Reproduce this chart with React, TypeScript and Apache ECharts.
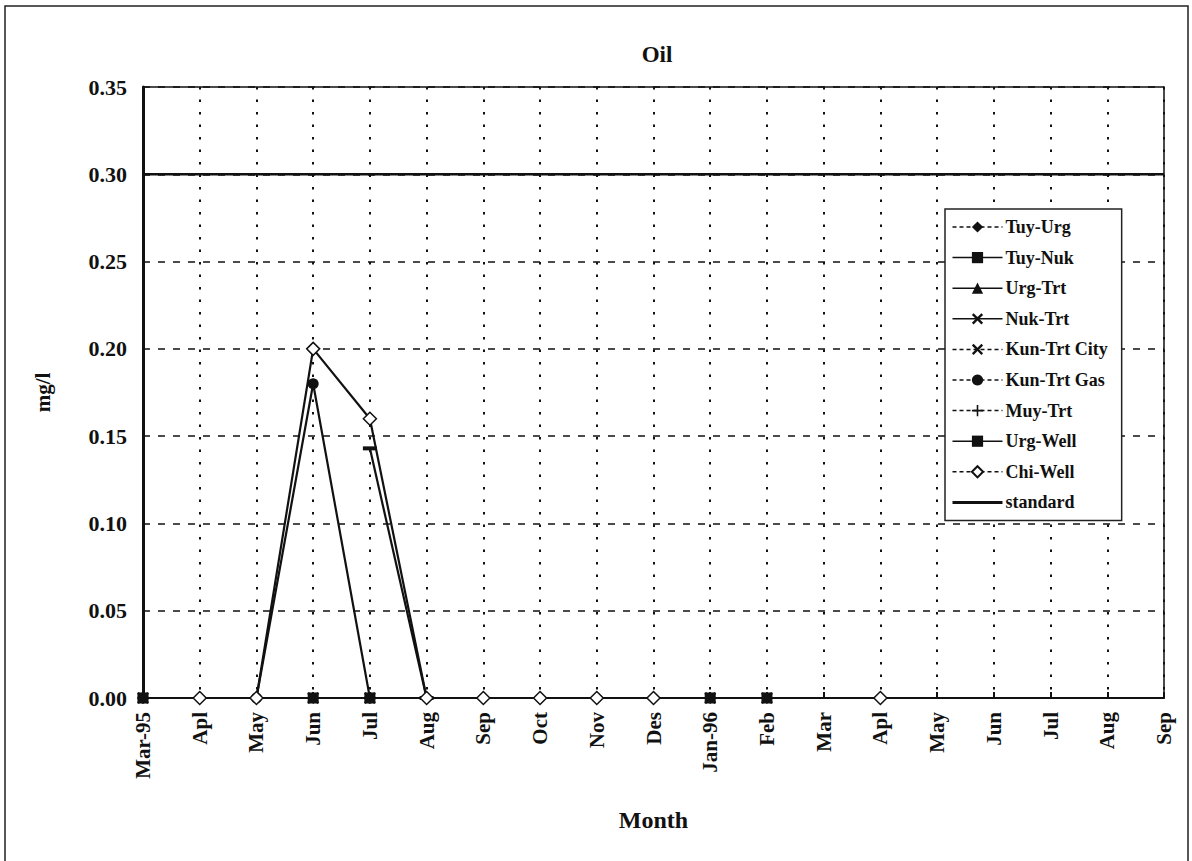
import React, { useEffect, useRef } from "react";
import * as echarts from "echarts";

const monthKeys = ["1995-03","1995-04","1995-05","1995-06","1995-07","1995-08","1995-09","1995-10","1995-11","1995-12","1996-01","1996-02","1996-03","1996-04","1996-05","1996-06","1996-07","1996-08","1996-09"];
const monthLabels = ["Mar-95","Apl","May","Jun","Jul","Aug","Sep","Oct","Nov","Des","Jan-96","Feb","Mar","Apl","May","Jun","Jul","Aug","Sep"];

const N = null;
const tuyUrg = [0, N, N, 0, 0, N, N, N, N, N, 0, 0, N, N, N, N, N, N, N];
const tuyNuk = [0, N, N, 0, 0, N, N, N, N, N, 0, 0, N, N, N, N, N, N, N];
const urgTrt = [0, N, N, 0, 0, N, N, N, N, N, 0, 0, N, N, N, N, N, N, N];
const nukTrt = [0, N, N, 0, 0, N, N, N, N, N, 0, 0, N, N, N, N, N, N, N];
const kunTrtCity = [0, N, N, 0, 0, N, N, N, N, N, 0, 0, N, N, N, N, N, N, N];
const kunTrtGas = [0, N, 0, 0.18, 0, N, N, N, N, N, N, N, N, N, N, N, N, N, N];
const muyTrt = [0, N, N, 0, 0, N, N, N, N, N, 0, 0, N, N, N, N, N, N, N];
const urgWell = [N, N, N, N, 0.143, 0, N, N, N, N, N, N, N, N, N, N, N, N, N];
const chiWell = [N, 0, 0, 0.2, 0.16, 0, 0, 0, 0, 0, N, N, N, 0, N, N, N, N, N];
const standard = [0.3, 0.3, 0.3, 0.3, 0.3, 0.3, 0.3, 0.3, 0.3, 0.3, 0.3, 0.3, 0.3, 0.3, 0.3, 0.3, 0.3, 0.3, 0.3];

const seriesNames = ["Tuy-Urg","Tuy-Nuk","Urg-Trt","Nuk-Trt","Kun-Trt City","Kun-Trt Gas","Muy-Trt","Urg-Well","Chi-Well","standard"];
const legendDashed = [true, false, false, false, true, true, true, false, true, false];

const FONT = "Liberation Serif";
const INK = "#111";

const xPath = "path://M0,1.5L1.5,0L5,3.5L8.5,0L10,1.5L6.5,5L10,8.5L8.5,10L5,6.5L1.5,10L0,8.5L3.5,5Z";
const plusPath = "path://M4.3,0H5.7V4.3H10V5.7H5.7V10H4.3V5.7H0V4.3H4.3Z";

export default function App() {
  const ref = useRef<HTMLDivElement>(null);
  useEffect(() => {
    if (!ref.current) return;
    const chart = echarts.init(ref.current, undefined, { renderer: "svg" });
    const mk = (name: string, data: (number | null)[], symbol: string, size: any, fill = INK, z = 3) => ({
      name,
      type: "line",
      data,
      symbol,
      symbolSize: size,
      showSymbol: true,
      connectNulls: false,
      lineStyle: { color: INK, width: 2.2 },
      itemStyle: { color: fill, borderColor: INK, borderWidth: fill === INK ? 0 : 1.5 },
      z,
    });
    chart.setOption({
      animation: false,
      backgroundColor: "#fff",
      title: {
        text: "Oil",
        left: 652,
        top: 38,
        textAlign: "center",
        textStyle: { fontFamily: FONT, fontWeight: "bold", fontSize: 23, color: INK },
      },
      graphic: [
        { type: "rect", shape: { x: 5, y: 6, width: 1183, height: 900 }, style: { fill: "none", stroke: "#222", lineWidth: 1.5 }, silent: true },
      ],
      legend: {
        orient: "vertical",
        left: 945,
        top: 209,
        width: 177,
        padding: [9, 14, 9, 6],
        itemGap: 12.6,
        itemWidth: 50,
        itemHeight: 14,
        borderColor: "#222",
        borderWidth: 1.5,
        backgroundColor: "#fff",
        textStyle: { fontFamily: FONT, fontWeight: "bold", fontSize: 18, color: INK, padding: [0, 0, 0, -2] },
        data: seriesNames.map((n, i) => ({
          name: n,
          lineStyle: { type: legendDashed[i] ? [4, 3] : "solid", width: n === "standard" ? 3 : 1.5 },
          ...(n === "standard" ? { itemStyle: { opacity: 0, color: "transparent", borderWidth: 0 } } : {}),
        })),
      },
      grid: { left: 143, top: 87, right: 28, bottom: 163, show: true, borderColor: INK, borderWidth: 1.5 },
      xAxis: {
        type: "category",
        data: monthKeys,
        boundaryGap: false,
        name: "Month",
        nameLocation: "middle",
        nameGap: 110,
        nameTextStyle: { fontFamily: FONT, fontWeight: "bold", fontSize: 24, color: INK },
        axisLine: { lineStyle: { color: INK, width: 2 } },
        axisTick: { show: true, inside: true, length: 6, lineStyle: { color: INK, width: 2 } },
        axisLabel: {
          interval: 0,
          rotate: 90,
          margin: 14,
          fontFamily: FONT,
          fontWeight: "bold",
          fontSize: 21,
          color: INK,
          formatter: (_v: string, i: number) => monthLabels[i],
        },
        splitLine: { show: true, lineStyle: { color: INK, width: 2, type: [2.5, 10] } },
      },
      yAxis: {
        type: "value",
        min: 0,
        max: 0.35,
        interval: 0.05,
        name: "mg/l",
        nameLocation: "middle",
        nameGap: 90,
        nameRotate: 90,
        nameTextStyle: { fontFamily: FONT, fontWeight: "bold", fontSize: 21, color: INK },
        axisLine: { show: true, lineStyle: { color: INK, width: 3 } },
        axisTick: { show: false },
        axisLabel: {
          margin: 16,
          fontFamily: FONT,
          fontWeight: "bold",
          fontSize: 22,
          color: INK,
          formatter: (v: number) => v.toFixed(2),
        },
        splitLine: { show: true, lineStyle: { color: INK, width: 1.5, type: [7, 8] } },
      },
      series: [
        mk("Tuy-Urg", tuyUrg, "diamond", 12),
        mk("Tuy-Nuk", tuyNuk, "rect", 11, INK, 5),
        mk("Urg-Trt", urgTrt, "triangle", 10),
        mk("Nuk-Trt", nukTrt, xPath, 12),
        mk("Kun-Trt City", kunTrtCity, xPath, 10),
        mk("Kun-Trt Gas", kunTrtGas, "circle", 11),
        mk("Muy-Trt", muyTrt, plusPath, 10),
        mk("Urg-Well", urgWell, "rect", [14, 4]),
        mk("Chi-Well", chiWell, "diamond", 13, "#fff", 4),
        {
          name: "standard",
          type: "line",
          data: standard,
          symbol: "none",
          lineStyle: { color: INK, width: 2.5 },
          itemStyle: { color: INK },
          z: 2,
        },
      ],
    });
    return () => chart.dispose();
  }, []);
  return <div ref={ref} style={{ position: "absolute", left: 0, top: 0, width: 1192, height: 861 }} />;
}
